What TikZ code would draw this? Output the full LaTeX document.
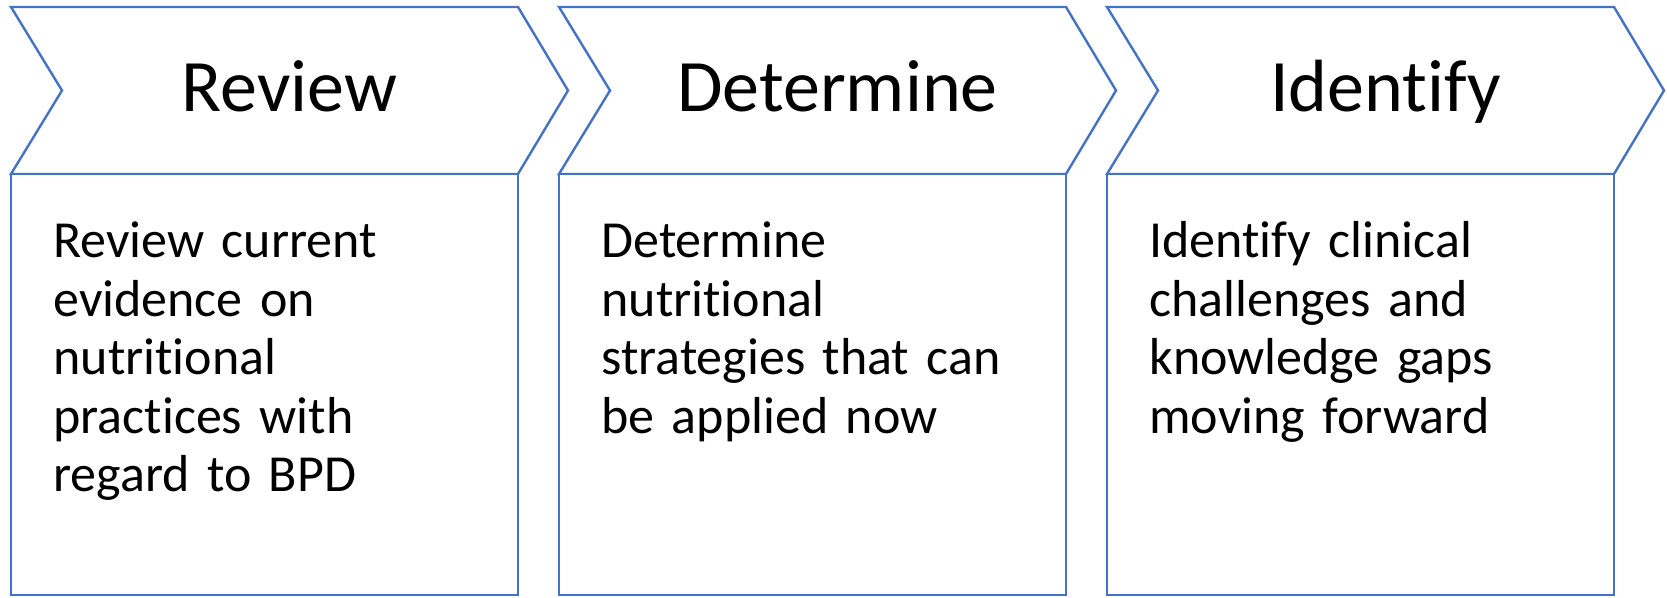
\documentclass[tikz,border=0pt]{standalone}
\usepackage{fontspec}
\setmainfont{Carlito}[Ligatures = NoCommon]
\usepackage{tikz}
\definecolor{step_blue}{HTML}{4472C4}
\tikzstyle{step_arrow} = [draw = step_blue, line width = 1.2pt, line join = miter, fill = white]
\tikzstyle{step_box} = [draw = step_blue, line width = 1.2pt, fill = white]
\tikzstyle{step_title} = [anchor = base, inner sep = 0, font = \fontsize{37}{44}\selectfont]
\tikzstyle{step_text} = [anchor = base west, inner sep = 0, text width = 220pt, align = left, font = \fontsize{26}{29.25}\selectfont]

\begin{document}
\begin{tikzpicture}[x = 0.5pt, y = -0.5pt]
        \useasboundingbox (0, 0) rectangle (1667, 598);
        \foreach \step/\offset/\title/\body in {
            review/0/Review/{Review current\\evidence on\\nutritional\\practices with\\regard to BPD},
            determine/548/Determine/{Determine\\nutritional\\strategies that can\\be applied now},
            identify/1096/Identify/{Identify clinical\\challenges and\\knowledge gaps\\moving forward}
        } {
            \begin{scope} [shift = {(\offset, 0)}]
                % chevron header
                \draw [style = step_arrow] (11, 7) -- (518, 7) -- (568, 90.5) -- (518, 174) -- (11, 174) -- (62, 90.5) -- cycle;
                % text box under it
                \draw [style = step_box] (11, 174) rectangle (518, 595);
                \node [style = step_title] (\step-title) at (289.5, 112) {\title};
                \node [style = step_text] (\step-text) at (53, 258) {\body};
            \end{scope}
        }
    \end{tikzpicture}
\end{document}
